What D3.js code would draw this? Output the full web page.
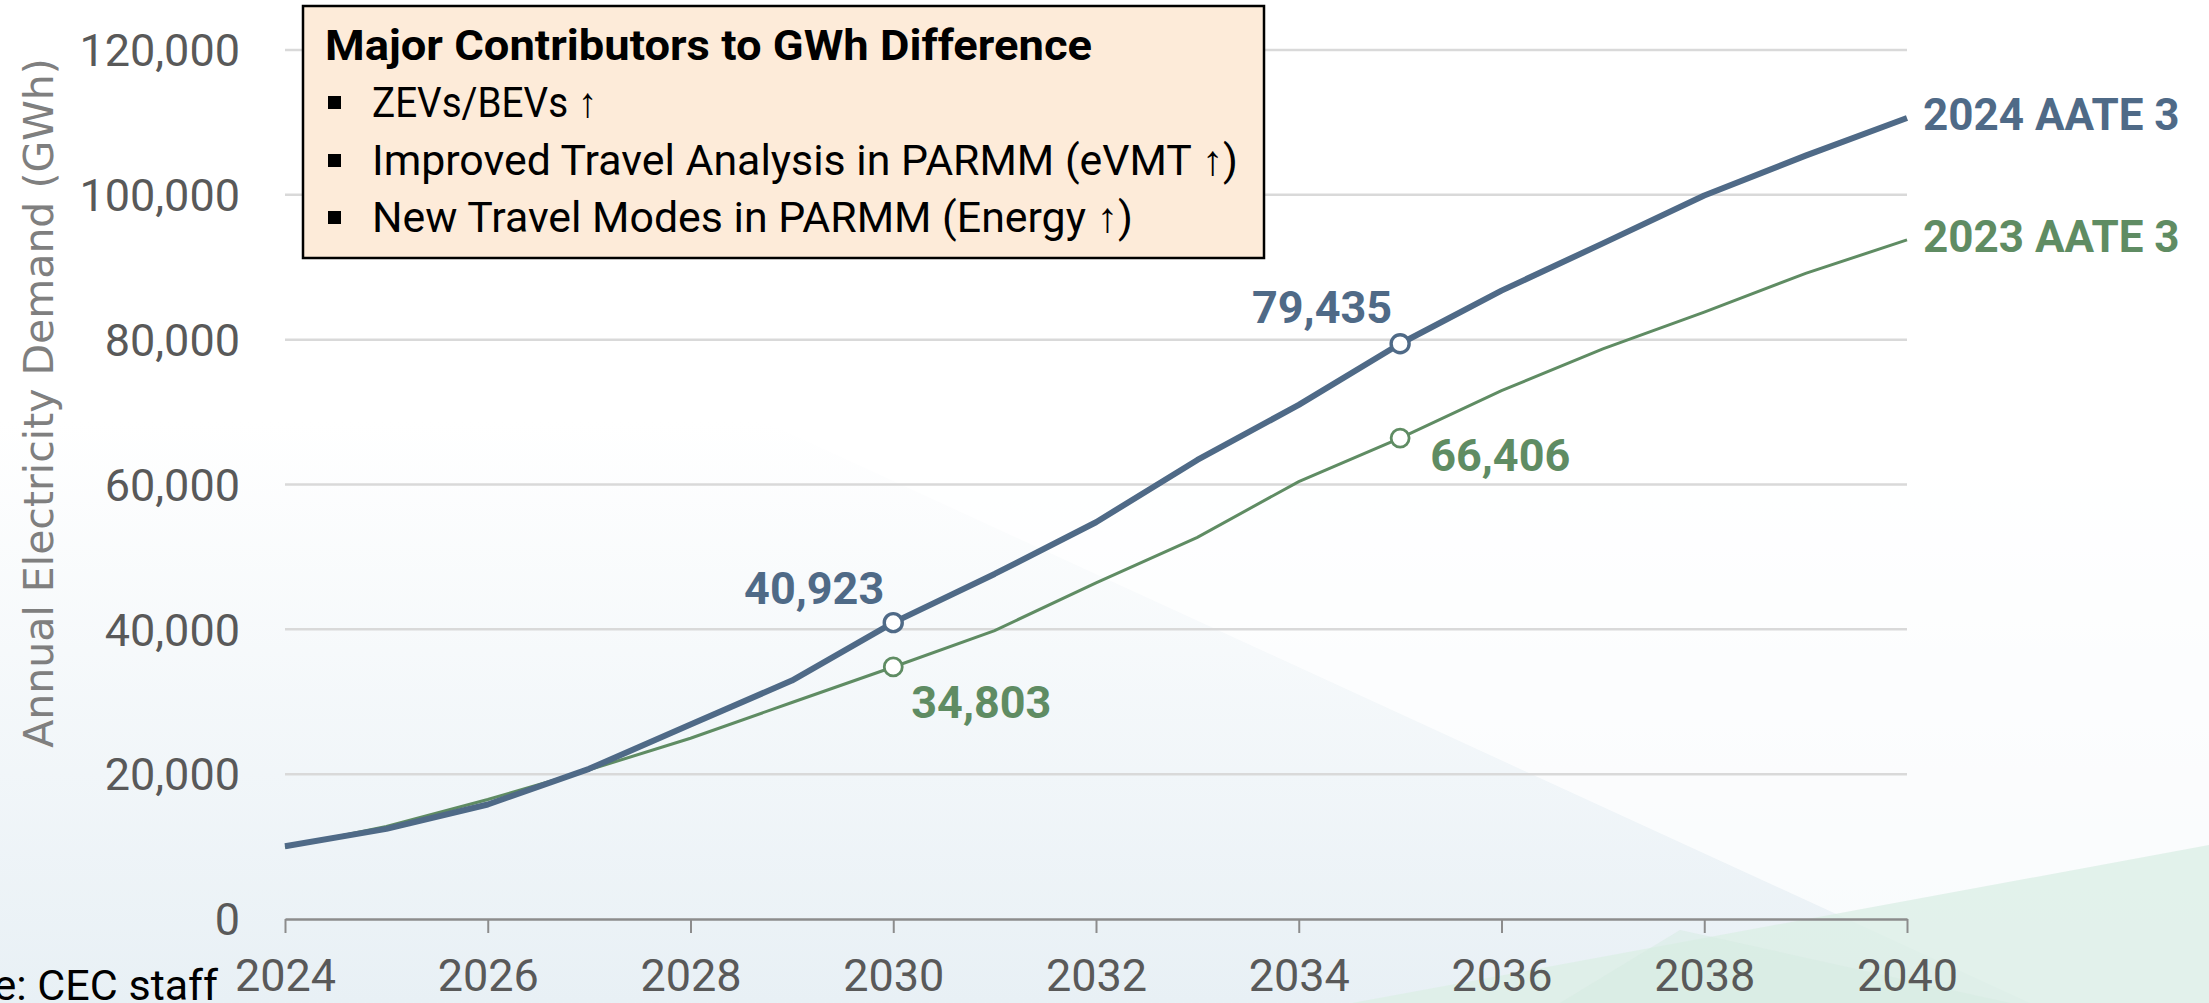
<!DOCTYPE html>
<html>
<head>
<meta charset="utf-8">
<script src="https://cdn.jsdelivr.net/npm/d3@7"></script>
<style>
  body { margin: 0; background: #fff; }
  svg { display: block; }
</style>
</head>
<body>
<div id="canvas"></div>
<script>
const years = [2024, 2025, 2026, 2027, 2028, 2029, 2030, 2031, 2032, 2033, 2034, 2035, 2036, 2037, 2038, 2039, 2040];
const aate2024 = [10050, 12450, 15810, 20740, 26850, 32930, 40923, 47650, 54790, 63390, 71000, 79435, 86770, 93300, 99900, 105410, 110610];
const aate2023 = [9900, 12770, 16500, 20600, 24960, 29900, 34803, 39830, 46420, 52710, 60400, 66406, 72960, 78720, 83800, 89160, 93770];
const seriesNames = ["2024 AATE 3", "2023 AATE 3"];
const yTicks = [0, 20000, 40000, 60000, 80000, 100000, 120000];
const xTicks = [2024, 2026, 2028, 2030, 2032, 2034, 2036, 2038, 2040];
const labelYears = [2030, 2035];
const noteTitle = "Major Contributors to GWh Difference";
const noteItems = ["ZEVs/BEVs \u2191", "Improved Travel Analysis in PARMM (eVMT \u2191)", "New Travel Modes in PARMM (Energy \u2191)"];

const canvas = d3.select("#canvas");

const width = 2209;
const height = 1003;
const margin = {top: 50, left: 285, bottom: 84, right: 302};
const iwidth = width - margin.left - margin.right;
const iheight = height - margin.top - margin.bottom;

const blue = "#4f6a87";
const green = "#5f8c63";

const svg = canvas.append("svg")
  .attr("width", width)
  .attr("height", height);

// background wash
const defs = svg.append("defs");
const grad = defs.append("linearGradient")
  .attr("id", "bg").attr("x1", 0).attr("y1", 0).attr("x2", 0).attr("y2", 1);
grad.append("stop").attr("offset", "0.42").attr("stop-color", "#ffffff");
grad.append("stop").attr("offset", "1").attr("stop-color", "#e8f0f5");

svg.append("rect").attr("width", width).attr("height", height).attr("fill", "url(#bg)");
svg.append("polygon")
  .attr("points", "760,420 2209,420 2209,1003 2030,1003")
  .attr("fill", "#ffffff").attr("opacity", 0.7);
svg.append("polygon")
  .attr("points", "1352,1003 2209,845 2209,1003")
  .attr("fill", "#dcefe6").attr("opacity", 0.8);
svg.append("polygon")
  .attr("points", "1680,930 2010,1003 1560,1003")
  .attr("fill", "#d6ebe2").attr("opacity", 0.5);

const g = svg.append("g").attr("transform", `translate(${margin.left},${margin.top})`);

const x = d3.scaleLinear()
  .domain([2024, 2040])
  .range([0, iwidth]);

const y = d3.scaleLinear()
  .domain([0, 120000])
  .range([iheight, 0]);

// gridlines
g.selectAll("line.grid")
  .data(yTicks.filter(d => d > 0))
  .enter().append("line")
  .attr("class", "grid")
  .attr("x1", 0).attr("x2", iwidth)
  .attr("y1", d => y(d)).attr("y2", d => y(d))
  .attr("stroke", "#d9d9d9")
  .attr("stroke-width", 2.5);

// y labels
g.selectAll("text.ytick")
  .data(yTicks)
  .enter().append("text")
  .attr("class", "ytick")
  .attr("x", -45)
  .attr("y", d => y(d))
  .attr("dy", "0.36em")
  .attr("text-anchor", "end")
  .style("font-family", "Roboto, sans-serif")
  .style("font-size", "45px")
  .style("fill", "#595959")
  .text(d => d3.format(",")(d));

// x axis
const xAxis = g.append("g")
  .classed("x--axis", true)
  .attr("transform", `translate(0,${iheight})`)
  .call(d3.axisBottom(x).tickValues(xTicks).tickFormat(d3.format("d")).tickSize(14).tickSizeOuter(0));
xAxis.select(".domain").attr("stroke", "#8c8c8c").attr("stroke-width", 2.5);
xAxis.selectAll(".tick line").attr("stroke", "#8c8c8c").attr("stroke-width", 2);
xAxis.selectAll(".tick text")
  .attr("y", 72).attr("dy", null)
  .style("font-family", "Roboto, sans-serif")
  .style("font-size", "45px")
  .style("fill", "#595959");

// y title
svg.append("text")
  .attr("transform", "translate(53,403) rotate(-90)")
  .attr("text-anchor", "middle")
  .style("font-family", "'DejaVu Sans', sans-serif")
  .style("font-size", "41px")
  .style("fill", "#7f7f7f")
  .text("Annual Electricity Demand (GWh)");

// lines
const line = d3.line()
  .x((d, i) => x(years[i]))
  .y(d => y(d));

g.append("path").datum(aate2023)
  .attr("d", line).attr("fill", "none")
  .attr("stroke", green).attr("stroke-width", 3);

g.append("path").datum(aate2024)
  .attr("d", line).attr("fill", "none")
  .attr("stroke", blue).attr("stroke-width", 6).attr("stroke-linejoin", "round");

// markers
const marks = [];
labelYears.forEach(yr => {
  const i = years.indexOf(yr);
  marks.push({yr: yr, v: aate2024[i], c: blue, w: 3.4});
  marks.push({yr: yr, v: aate2023[i], c: green, w: 2.8});
});
g.selectAll("circle.mark")
  .data(marks)
  .enter().append("circle")
  .attr("class", "mark")
  .attr("cx", d => x(d.yr))
  .attr("cy", d => y(d.v))
  .attr("r", 9)
  .attr("fill", "#fff")
  .attr("stroke", d => d.c)
  .attr("stroke-width", d => d.w);

// value labels
const place = [
  {dx: -9, dy: -19, anchor: "end"},
  {dx: 18, dy: 51, anchor: "start"},
  {dx: -8, dy: -21, anchor: "end"},
  {dx: 30, dy: 33, anchor: "start"}
];
g.selectAll("text.vlabel")
  .data(marks)
  .enter().append("text")
  .attr("class", "vlabel")
  .attr("x", (d, i) => x(d.yr) + place[i].dx)
  .attr("y", (d, i) => y(d.v) + place[i].dy)
  .attr("text-anchor", (d, i) => place[i].anchor)
  .style("font-family", "Roboto, sans-serif")
  .style("font-weight", "bold")
  .style("font-size", "45px")
  .style("fill", d => d.c)
  .text(d => d3.format(",")(d.v));

// series names at line ends
const ends = [
  {name: seriesNames[0], v: aate2024[aate2024.length - 1], c: blue},
  {name: seriesNames[1], v: aate2023[aate2023.length - 1], c: green}
];
g.selectAll("text.sname")
  .data(ends)
  .enter().append("text")
  .attr("class", "sname")
  .attr("x", x(years[years.length - 1]) + 16)
  .attr("y", d => y(d.v) + 12)
  .style("font-family", "Roboto, sans-serif")
  .style("font-weight", "bold")
  .style("font-size", "44px")
  .style("fill", d => d.c)
  .text(d => d.name);

// note box
const note = svg.append("g");
note.append("rect")
  .attr("x", 303).attr("y", 6)
  .attr("width", 961).attr("height", 252)
  .attr("fill", "#fdebd9")
  .attr("stroke", "#000")
  .attr("stroke-width", 2.5);

const noteTitleText = note.append("text")
  .attr("x", 325).attr("y", 60)
  .style("font-family", "Roboto, sans-serif")
  .style("font-weight", "bold")
  .style("font-size", "42px")
  .style("fill", "#000")
  .text(noteTitle);

const baselines = [117, 175, 232];
const itemTexts = noteItems.map((t, i) => {
  note.append("rect")
    .attr("x", 328).attr("y", baselines[i] - 21)
    .attr("width", 13).attr("height", 13)
    .attr("fill", "#000");
  return note.append("text")
    .attr("x", 372).attr("y", baselines[i])
    .style("font-family", "Roboto, sans-serif")
    .style("font-size", "42px")
    .style("fill", "#000")
    .text(t);
});

// narrow the note text to match the condensed face of the original
const squeeze = 866 / itemTexts[1].node().getComputedTextLength();
itemTexts.forEach((t, i) => {
  const w = i === 0 ? 225 : t.node().getComputedTextLength() * squeeze;
  t.attr("textLength", w).attr("lengthAdjust", "spacingAndGlyphs");
});
noteTitleText.attr("textLength", 767).attr("lengthAdjust", "spacingAndGlyphs");

// source, runs off the left edge as in the original slide
svg.append("text")
  .attr("x", 218).attr("y", 1000)
  .attr("text-anchor", "end")
  .style("font-family", "Roboto, sans-serif")
  .style("font-size", "43px")
  .style("fill", "#000")
  .text("Source: CEC staff");
</script>
</body>
</html>
